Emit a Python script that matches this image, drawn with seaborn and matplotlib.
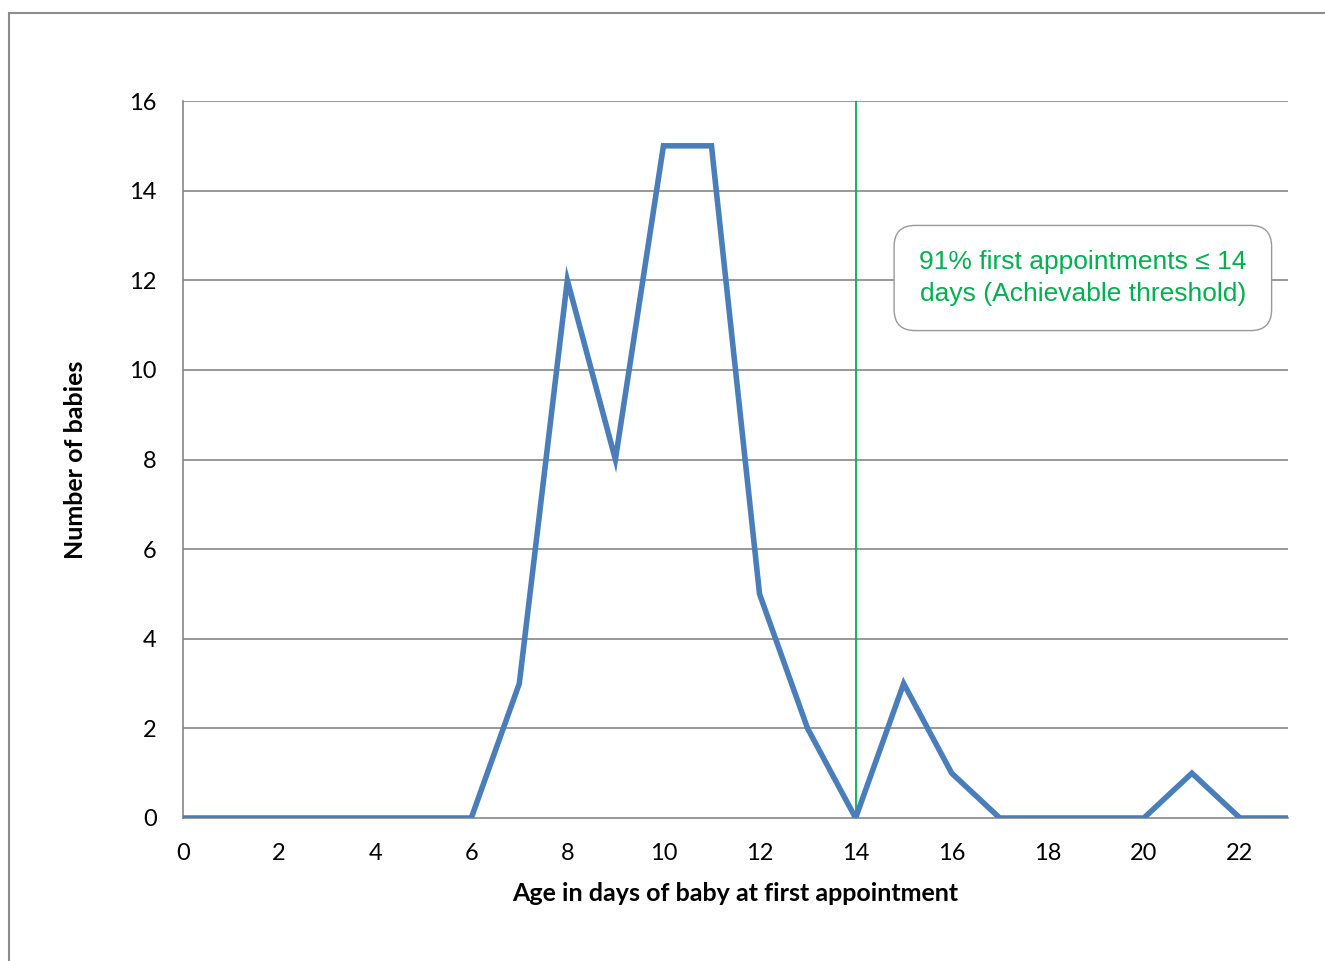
import matplotlib
matplotlib.use("Agg")
import matplotlib.pyplot as plt
import seaborn as sns
import pandas as pd
from matplotlib.patches import Rectangle

days = list(range(0, 24))
babies = [0, 0, 0, 0, 0, 0, 0, 3, 12, 8, 15, 15, 5, 2, 0, 3, 1, 0, 0, 0, 0, 1, 0, 0]
x_tick_labels = [str(v) for v in range(0, 24, 2)]
y_ticks = list(range(0, 17, 2))
threshold_day = 14
annotation = "91% first appointments \u2264 14\ndays (Achievable threshold)"

df = pd.DataFrame({"day": days, "babies": babies})

sns.set_style("white")
plt.rcParams['font.family'] = ['Lato', 'DejaVu Sans']

fig = plt.figure(figsize=(13.25, 9.61), dpi=100)
ax = fig.add_axes([183/1325, 1-818/961, (1288-183)/1325, (818-101)/961])

grey = "#868686"
for yv in y_ticks[1:]:
    ax.axhline(yv, color=grey, lw=1.2, zorder=1)

ax.axvline(threshold_day, color="#00B050", lw=1.3, zorder=2)

sns.lineplot(data=df, x="day", y="babies", ax=ax, color="#4A7EBB", lw=4.0,
             zorder=3, solid_joinstyle="miter")

ax.set_xlim(0, 23)
ax.set_ylim(0, 16)
ax.set_xticks(range(0, 24, 2))
ax.set_xticklabels(x_tick_labels)
ax.set_xticks(range(0, 24), minor=True)
ax.set_yticks(y_ticks)
ax.tick_params(axis="both", which="both", direction="out", color=grey, width=1.2,
               labelsize=17, labelcolor="black")
ax.tick_params(axis="x", which="both", length=6, pad=12)
ax.tick_params(axis="y", length=6, pad=13)
for s in ["top", "right"]:
    ax.spines[s].set_visible(False)
for s in ["left", "bottom"]:
    ax.spines[s].set_color(grey)
    ax.spines[s].set_linewidth(1.2)

ax.set_xlabel("Age in days of baby at first appointment", fontsize=18,
              fontweight="bold", labelpad=13, color="black")
ax.set_ylabel("Number of babies", fontsize=18, fontweight="bold", labelpad=30,
              color="black")

ax.text(18.73, 12.05, annotation, ha="center", va="center", fontsize=19,
        color="#00B050", family=["Liberation Sans", "DejaVu Sans"],
        linespacing=1.37, zorder=5,
        bbox=dict(boxstyle="round,pad=0.95,rounding_size=0.8", fc="white",
                  ec="#999999", lw=1.0))

fig.patches.append(Rectangle((9/1325, -0.1), 1.2, 1-13/961+0.1,
                             transform=fig.transFigure, fill=False,
                             ec="#8c8c8c", lw=1.5))

fig.savefig("out.png", dpi=100)
